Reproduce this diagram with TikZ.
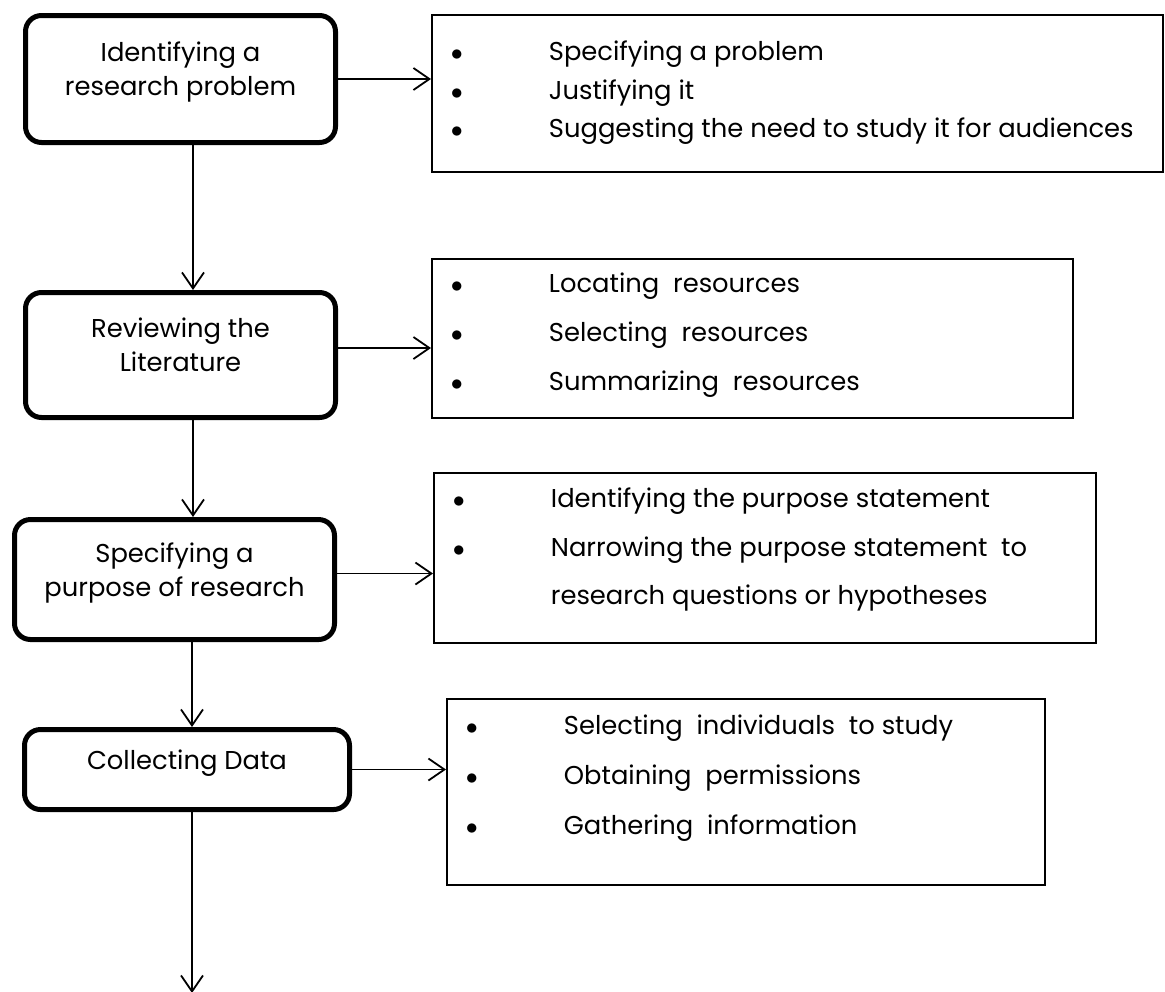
\documentclass[tikz,border=0pt]{standalone}
\usepackage{fontspec}
\setmainfont{Poppins}
\usepackage{tikz}
\usetikzlibrary{arrows.meta, positioning}

\newcommand{\bpoint}[1]{\makebox[58.5pt][l]{\hspace{9.5pt}$\bullet$}#1\par}
\newcommand{\bcont}[1]{\hspace*{58.5pt}#1\par}

\begin{document}
\begin{tikzpicture}[x=0.5pt, y=-0.5pt,
  stage/.style={draw, line width=2.5pt, rounded corners=8pt, align=center,
    font=\fontsize{12.9}{17}\selectfont, text depth=10pt},
  points/.style={draw, line width=0.9pt, inner sep=0pt, anchor=north west,
    font=\fontsize{12.9}{17}\selectfont},
  flow/.style={line width=0.9pt, -{Straight Barb[length=8pt, width=11pt]}}]

\useasboundingbox (0,0) rectangle (1165,991);

% Stages
\node[stage, minimum width=155pt, minimum height=63.5pt] (problem) at (180.5,79) {Identifying a\\research problem};
\node[stage, minimum width=155pt, minimum height=62.5pt] (review) at (180.5,355) {Reviewing the\\Literature};
\node[stage, minimum width=160pt, minimum height=60pt] (purpose) at (174.5,579.5) {Specifying a\\purpose of research};
\node[stage, minimum width=162.5pt, minimum height=40pt] (collect) at (187,769.5) {Collecting Data};

% Task lists
\node[points] (tasks1) at (431,14) {\begin{minipage}[t][78.5pt][t]{365.5pt}\setlength{\baselineskip}{19.25pt}%
\rule{0pt}{23pt}\bpoint{Specifying a problem}
\bpoint{Justifying it}
\bpoint{Suggesting the need to study it for audiences}
\end{minipage}};
\node[points] (tasks2) at (431,258) {\begin{minipage}[t][79.5pt][t]{320.5pt}\setlength{\baselineskip}{24.5pt}%
\rule{0pt}{17pt}\bpoint{Locating~ resources}
\bpoint{Selecting~ resources}
\bpoint{Summarizing~ resources}
\end{minipage}};
\node[points] (tasks3) at (433,472) {\begin{minipage}[t][85pt][t]{331pt}\setlength{\baselineskip}{24.25pt}%
\rule{0pt}{17.5pt}\bpoint{Identifying the purpose statement}
\bpoint{Narrowing the purpose statement~ to}
\bcont{research questions or hypotheses}
\end{minipage}};
\node[points] (tasks4) at (446,698) {\begin{minipage}[t][93pt][t]{299pt}\setlength{\baselineskip}{25pt}%
\rule{0pt}{18pt}\bpoint{Selecting~ individuals~ to study}
\bpoint{Obtaining~ permissions}
\bpoint{Gathering~ information}
\end{minipage}};

% Flow down the stages
\coordinate (spine) at (193,0);
\coordinate (next) at (192,993);
\draw[flow] (problem.south -| spine) -- (review.north -| spine);
\draw[flow] (review.south -| spine) -- (purpose.north -| spine);
\draw[flow] (purpose.south -| next) -- (collect.north -| next);
\draw[flow] (collect.south -| next) -- (next);

% Stage to tasks
\draw[flow] (problem.east) -- (problem.east -| tasks1.west);
\draw[flow] ([yshift=3.5pt]review.east) -- ([yshift=3.5pt]review.east -| tasks2.west);
\draw[flow] ([yshift=3pt]purpose.east) -- ([yshift=3pt]purpose.east -| tasks3.west);
\draw[flow] (collect.east) -- (collect.east -| tasks4.west);
\end{tikzpicture}
\end{document}
